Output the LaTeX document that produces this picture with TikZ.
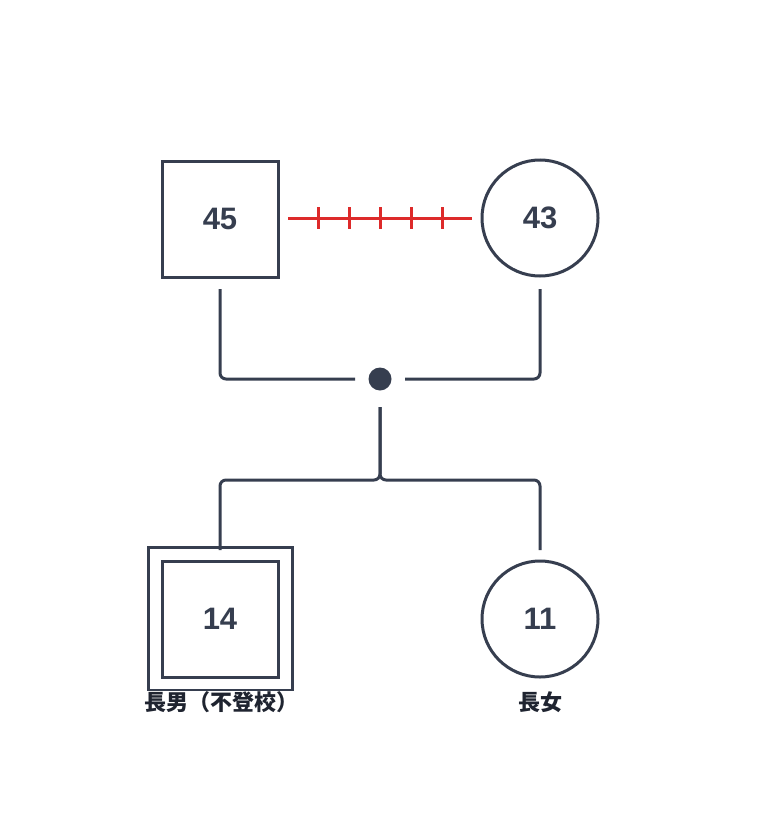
\documentclass[tikz,border=0pt]{standalone}
\usepackage{fontspec}
\setmainfont{Liberation Sans}
\newfontfamily\cjk{Noto Sans CJK JP}
\begin{document}
\begin{tikzpicture}[x=1pt,y=-1pt,line width=3pt,
  ink/.style={draw=dk},
  male/.style={ink,minimum size=116pt,inner sep=0pt,font=\bfseries\fontsize{31}{34}\selectfont,text=dk},
  female/.style={male,circle},
  lbl/.style={font=\cjk\bfseries\fontsize{22}{26}\selectfont,text=lb,inner sep=0pt},
  rel/.style={draw=dk,rounded corners=6pt}]
\definecolor{dk}{HTML}{363E4F}
\definecolor{lb}{HTML}{1F2430}
\definecolor{rd}{HTML}{DD2A2A}
\useasboundingbox (0,0) rectangle (760,840);
\node[male] (f) at (220,219) {45};
\node[female] (m) at (540,218) {43};
\node[male] (s) at (220,619) {14};
\node[female] (d) at (540,619) {11};
\node[draw=dk,minimum width=144pt,minimum height=143pt,inner sep=0pt] (so) at (220,618.5) {};
\node[lbl,fill=white] (sl) at (221,702) {長男（不登校）};
\node[lbl] (dl) at (540,702) {長女};
\node[circle,fill=dk,minimum size=23pt,inner sep=0pt] (u) at (380,379) {};
\coordinate (fa) at (220,289);
\coordinate (ma) at (540,289);
\coordinate (ul) at (355,379);
\coordinate (ur) at (405,379);
\coordinate (ud) at (380,407);
\coordinate (sa) at (220,550);
\coordinate (da) at (540,550);
\draw[rel] (fa) |- (ul);
\draw[rel] (ma) |- (ur);
\draw[rel] (ud) -- (380,480) -| (sa);
\draw[rel] (ud) -- (380,480) -| (da);
\coordinate (ra) at (288,218);
\coordinate (rb) at (472,218);
\draw[rd] (ra) -- (rb);
\foreach \x in {318,349,380,411,442} \draw[rd] (\x,207) -- (\x,229);
\end{tikzpicture}
\end{document}
